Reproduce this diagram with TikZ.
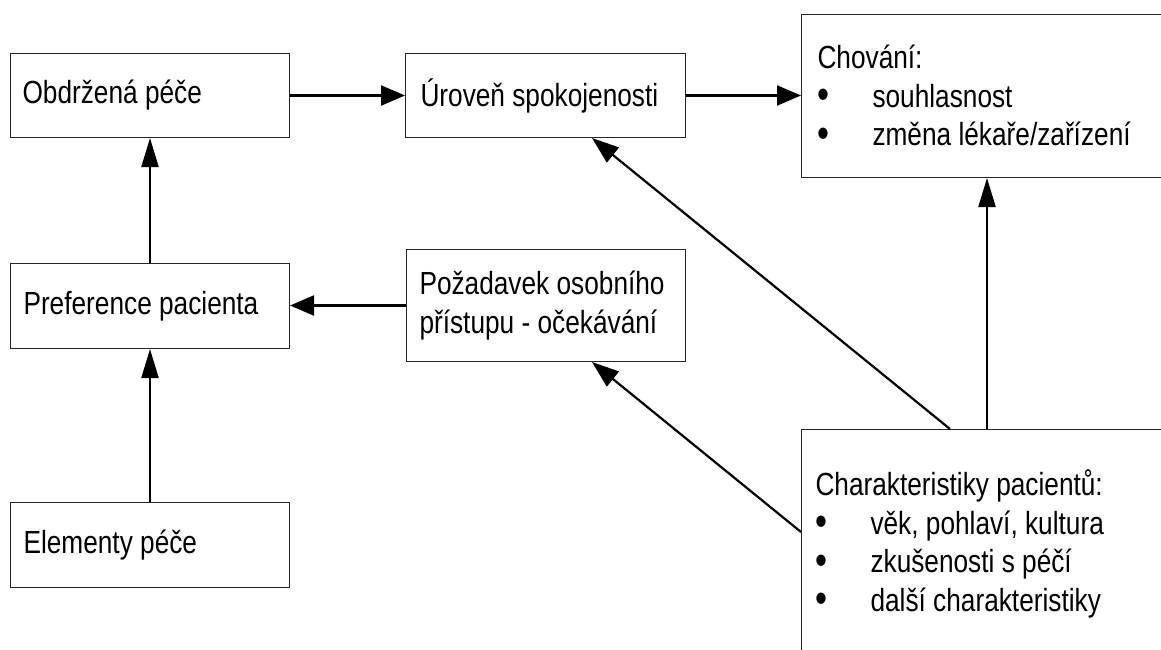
\documentclass[tikz,border=0pt]{standalone}
\usepackage{fontspec}
\setmainfont[FakeStretch=0.82]{Liberation Sans}
\usetikzlibrary{arrows.meta,calc}
\newcommand{\bul}[1]{\makebox[55pt][l]{\raisebox{-1.5pt}{\scalebox{1.3}{\textbullet}}}#1}
\newcommand{\boxfont}{\fontsize{32}{38.5}\selectfont}
\begin{document}
\begin{tikzpicture}[x=1pt,y=-1pt,
  box/.style={draw=black!85,line width=1pt,rectangle,anchor=north west,inner sep=0pt,align=left,font=\boxfont,
    execute at begin node={\spaceskip=7.3pt plus 2pt\relax}},
  arr/.style={line width=2.2pt},
  harr/.style={arr,-{Triangle[length=24pt,width=20pt]}},
  varr/.style={arr,-{Triangle[length=29pt,width=17pt]}},
  darr/.style={arr,-{Triangle[length=27pt,width=19pt]}}]
\clip (0,0) rectangle (1161,649);
\fill[white] (0,0) rectangle (1161,649);
\node[box,text width=255pt,inner xsep=12pt,minimum height=84pt] (obd) at (10,53) {Obdržená péče};
\node[box,text width=250pt,inner xsep=15pt,minimum height=84pt] (uro) at (405,53) {Úroveň spokojenosti};
\node[box,text width=348pt,inner xsep=16pt,minimum height=163pt] (cho) at (801,14) {Chování:\\\bul{souhlasnost}\\\bul{změna lékaře/zařízení}};
\node[box,text width=253pt,inner xsep=13pt,minimum height=85pt] (pref) at (10,263) {Preference pacienta};
\node[box,text width=253pt,inner xsep=13pt,minimum height=112pt] (poz) at (406,249) {Požadavek osobního\\přístupu - očekávání};
\node[box,text width=253pt,inner xsep=13pt,minimum height=85pt] (ele) at (10,502) {Elementy péče};
\node[box,text width=352pt,inner xsep=14pt,minimum height=229pt] (cha) at (801,429) {Charakteristiky pacientů:\\\bul{věk, pohlaví, kultura}\\\bul{zkušenosti s péčí}\\\bul{další charakteristiky}};
\draw[harr] (obd.east) -- (uro.west);
\draw[harr] (uro.east) -- (uro.east -| cho.west);
\draw[varr] (pref.north) -- (obd.south);
\draw[varr] (ele.north) -- (pref.south);
\draw[harr] (poz.west) -- (poz.west -| pref.east);
\coordinate (c1) at ($(cha.north west)+(149,0)$);
\draw[darr] (c1) -- ($(uro.south west)+(187,0)$);
\coordinate (c2) at ($(cha.north west)+(0,103)$);
\draw[darr] (c2) -- ($(poz.south west)+(186,0)$);
\coordinate (c3) at ($(cha.north west)+(186,0)$);
\draw[varr] (c3) -- (c3 |- cho.south);
\end{tikzpicture}
\end{document}
